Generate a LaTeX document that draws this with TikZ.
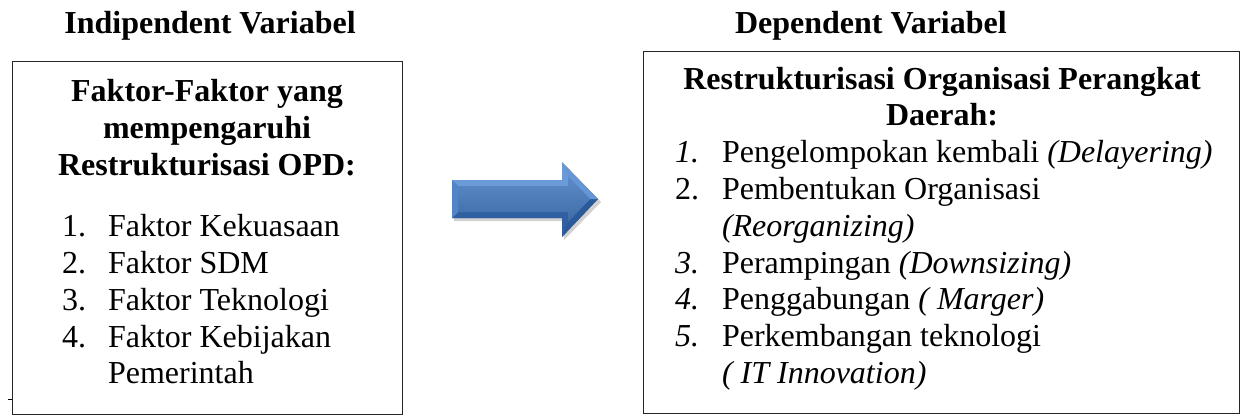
\documentclass[tikz,border=0pt]{standalone}
\usepackage{fontspec}
\setmainfont{Liberation Serif}
\begin{document}
\begin{tikzpicture}[x=1pt,y=-1pt,
  txt/.style={inner sep=0pt,outer sep=0pt,font=\fontsize{32}{36.8}\selectfont},
  ctxt/.style={txt,anchor=base},
  ltxt/.style={txt,anchor=base west},
  framebox/.style={draw=black!85,line width=1.4pt,inner sep=0pt,anchor=north west}]
\useasboundingbox (0,0) rectangle (1244,415);
\definecolor{arrtop}{HTML}{78A6E0}
\definecolor{arrbot}{HTML}{2A5A9C}
\definecolor{arrface}{HTML}{4A7FC4}
% boxes
\node[framebox,minimum width=390pt,minimum height=353pt] (lbox) at (12,61) {};
\node[framebox,minimum width=596pt,minimum height=362pt] (rbox) at (643,51) {};
\draw[line width=0.8pt] (8,399) -- (lbox.west |- 0,399);
% titles
\node[ctxt] (t1) at (210,33) {\textbf{Indipendent Variabel}};
\node[ltxt] (t2) at (735,33) {\textbf{Dependent Variabel}};
% left box
\node[ctxt] (lh1) at (207,101.7) {\textbf{Faktor-Faktor yang}};
\node[ctxt] (lh2) at (207,138.5) {\textbf{mempengaruhi}};
\node[ctxt] (lh3) at (207,175.3) {\textbf{Restrukturisasi OPD:}};
\node[ltxt] (ln1) at (62,236.7) {1.};
\node[ltxt] (li1) at (108,236.7) {Faktor Kekuasaan};
\node[ltxt] (ln2) at (62,273.5) {2.};
\node[ltxt] (li2) at (108,273.5) {Faktor SDM};
\node[ltxt] (ln3) at (62,310.3) {3.};
\node[ltxt] (li3) at (108,310.3) {Faktor Teknologi};
\node[ltxt] (ln4) at (62,347.1) {4.};
\node[ltxt] (li4) at (108,347.1) {Faktor Kebijakan};
\node[ltxt] (li4b) at (108,383.9) {Pemerintah};
% right box
\node[ctxt] (rh1) at (942,89) {\textbf{Restrukturisasi Organisasi Perangkat}};
\node[ctxt] (rh2) at (942,125.8) {\textbf{Daerah:}};
\node[ltxt] (rn1) at (675,162.6) {\textit{1.}};
\node[ltxt] (ri1) at (722,162.6) {Pengelompokan kembali \textit{(Delayering)}};
\node[ltxt] (rn2) at (675,199.4) {2.};
\node[ltxt] (ri2) at (722,199.4) {Pembentukan Organisasi};
\node[ltxt] (ri2b) at (722,236.2) {\textit{(Reorganizing)}};
\node[ltxt] (rn3) at (675,273) {\textit{3.}};
\node[ltxt] (ri3) at (722,273) {Perampingan \textit{(Downsizing)}};
\node[ltxt] (rn4) at (675,309.8) {\textit{4.}};
\node[ltxt] (ri4) at (722,309.8) {Penggabungan \textit{( Marger)}};
\node[ltxt] (rn5) at (675,346.6) {\textit{5.}};
\node[ltxt] (ri5) at (722,346.6) {Perkembangan teknologi};
\node[ltxt] (ri5b) at (722,383.4) {\textit{( IT Innovation)}};
% block arrow
\fill[black,opacity=0.18] (454,183) -- (564,183) -- (564,165) -- (601,202) -- (564,240) -- (564,221) -- (454,221) -- cycle;
\shade[top color=arrtop,bottom color=arrbot] (452,180) -- (562,180) -- (562,162) -- (598,199) -- (562,237) -- (562,218) -- (452,218) -- cycle;
\fill[arrtop!70!arrface] (452,180) -- (562,180) -- (562,162) -- (568,176) -- (568,186) -- (458,186) -- cycle;
\fill[arrbot!85!arrface] (452,218) -- (562,218) -- (562,237) -- (568,222) -- (568,212) -- (458,212) -- cycle;
\fill[arrface!85!arrtop] (452,180) -- (458,186) -- (458,212) -- (452,218) -- cycle;
\fill[arrbot] (598,199) -- (590,199) -- (568,222) -- (562,237) -- cycle;
\fill[arrtop!60!arrface] (598,199) -- (590,199) -- (568,176) -- (562,162) -- cycle;
\shade[top color=arrface!90!white,bottom color=arrface!85!black] (458,186) -- (568,186) -- (568,176) -- (590,199) -- (568,222) -- (568,212) -- (458,212) -- cycle;
\end{tikzpicture}
\end{document}
